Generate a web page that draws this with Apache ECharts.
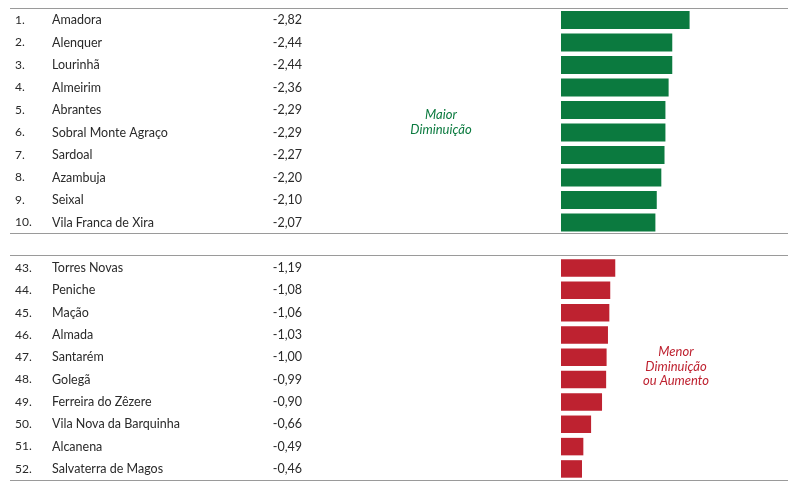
<!DOCTYPE html>
<html>
<head>
<meta charset="utf-8">
<script src="https://cdn.jsdelivr.net/npm/echarts@6/dist/echarts.min.js"></script>
<style>html,body{margin:0;padding:0;background:#fff}#c{width:800px;height:489px}</style>
</head>
<body>
<div id="c"></div>
<script>
var topRanks = ['1.', '2.', '3.', '4.', '5.', '6.', '7.', '8.', '9.', '10.'];
var topNames = ['Amadora', 'Alenquer', 'Lourinhã', 'Almeirim', 'Abrantes', 'Sobral Monte Agraço', 'Sardoal', 'Azambuja', 'Seixal', 'Vila Franca de Xira'];
var topValues = [-2.82, -2.44, -2.44, -2.36, -2.29, -2.29, -2.27, -2.20, -2.10, -2.07];

var botRanks = ['43.', '44.', '45.', '46.', '47.', '48.', '49.', '50.', '51.', '52.'];
var botNames = ['Torres Novas', 'Peniche', 'Mação', 'Almada', 'Santarém', 'Golegã', 'Ferreira do Zêzere', 'Vila Nova da Barquinha', 'Alcanena', 'Salvaterra de Magos'];
var botValues = [-1.19, -1.08, -1.06, -1.03, -1.00, -0.99, -0.90, -0.66, -0.49, -0.46];

var topNote = 'Maior\nDiminuição';
var botNote = 'Menor\nDiminuição\nou Aumento';

var GREEN = '#0b7a3f', RED = '#be2230', TXT = '#2a2a2a';
var FONT = 'Lato';

function fmt(v) { return v.toFixed(2).replace('.', ','); }
function cats(ranks, names, values) {
  return names.map(function (n, i) { return ranks[i] + '|' + n + '|' + fmt(values[i]); });
}
var rich = {
  r: { width: 37, align: 'left', fontFamily: FONT, fontSize: 12, color: TXT },
  n: { width: 200, align: 'left', fontFamily: FONT, fontSize: 12.5, color: TXT },
  v: { width: 50, align: 'right', fontFamily: FONT, fontSize: 12.5, color: TXT }
};
function yAx(gi, data) {
  return {
    type: 'category', gridIndex: gi, inverse: true, data: data,
    axisLine: { show: false }, axisTick: { show: false }, splitLine: { show: false },
    axisLabel: {
      margin: 259, align: 'right',
      formatter: function (s) { var p = s.split('|'); return '{r|' + p[0] + '}{n|' + p[1] + '}{v|' + p[2] + '}'; },
      rich: rich
    }
  };
}
function xAx(gi) {
  return { type: 'value', gridIndex: gi, min: -5, max: 0, inverse: true, show: false };
}
function note(text, cx, top, color, lh) {
  return { type: 'text', x: cx, y: top, style: { text: text, align: 'center', verticalAlign: 'top', fill: color, fontFamily: FONT, fontStyle: 'italic', fontSize: 13, lineHeight: lh } };
}

var chart = echarts.init(document.getElementById('c'), null, { renderer: 'canvas' });
chart.setOption({
  animation: false,
  grid: [
    { left: 561, width: 228, top: 8.75, height: 225 },
    { left: 561, width: 228, top: 256.8, height: 223.3 }
  ],
  xAxis: [xAx(0), xAx(1)],
  yAxis: [yAx(0, cats(topRanks, topNames, topValues)), yAx(1, cats(botRanks, botNames, botValues))],
  series: [
    { type: 'bar', xAxisIndex: 0, yAxisIndex: 0, data: topValues, barWidth: 18, itemStyle: { color: GREEN } },
    { type: 'bar', xAxisIndex: 1, yAxisIndex: 1, data: botValues, barWidth: 17.5, itemStyle: { color: RED } }
  ],
  graphic: [
    { type: 'line', shape: { x1: 10, y1: 8.5, x2: 788, y2: 8.5 }, style: { stroke: '#9a9a9a', lineWidth: 1 } },
    { type: 'line', shape: { x1: 10, y1: 233.5, x2: 788, y2: 233.5 }, style: { stroke: '#9a9a9a', lineWidth: 1 } },
    { type: 'line', shape: { x1: 10, y1: 255.5, x2: 788, y2: 255.5 }, style: { stroke: '#9a9a9a', lineWidth: 1 } },
    { type: 'line', shape: { x1: 10, y1: 480.5, x2: 788, y2: 480.5 }, style: { stroke: '#9a9a9a', lineWidth: 1 } },
    note(topNote, 441, 107, GREEN, 15),
    note(botNote, 676, 345, RED, 14.5)
  ]
});
</script>
</body>
</html>
